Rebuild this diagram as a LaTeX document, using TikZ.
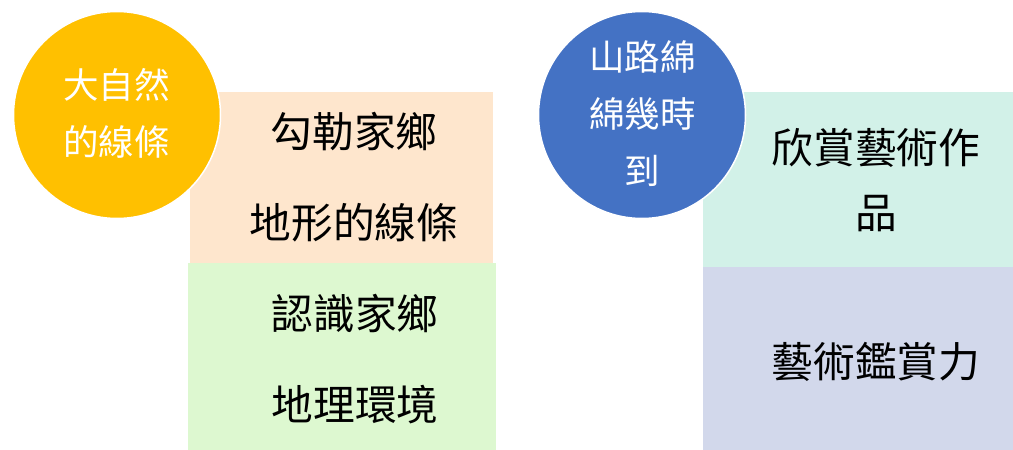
\documentclass[tikz,border=0pt]{standalone}
\usepackage{fontspec}
\setmainfont{Noto Sans CJK TC}
\definecolor{peach}{HTML}{FEE6CD}
\definecolor{lgreen}{HTML}{DDF8D0}
\definecolor{lteal}{HTML}{D2F1E8}
\definecolor{lav}{HTML}{D2D8EB}
\definecolor{gold}{HTML}{FFC000}
\definecolor{oblue}{HTML}{4472C4}
\tikzset{
  panel/.style={fill=#1, draw=none},
  circ/.style={circle, fill=#1, draw=white, line width=1.5pt, minimum size=207pt, inner sep=0pt},
  boxtext/.style={align=center, inner sep=0pt, text=black, font=\fontsize{41.7pt}{91pt}\selectfont},
  wraptext/.style={align=center, inner sep=0pt, text=black, font=\fontsize{41.7pt}{65pt}\selectfont},
  circtext/.style={align=center, inner sep=0pt, text=white, font=\fontsize{35.5pt}{57pt}\selectfont},
}
\begin{document}
\begin{tikzpicture}[x=1pt, y=-1pt]
\useasboundingbox (0,0) rectangle (1013,450);
% left group
\fill[panel=peach] (190,92) rectangle (493,263);
\fill[panel=lgreen] (188,263) rectangle (496,450);
\node[boxtext] (t1) at (354,177.5) {勾勒家鄉\\地形的線條};
\node[boxtext] (t2) at (355,359) {認識家鄉\\地理環境};
\node[circ=gold] (c1) at (117,115) {};
\node[circtext] (c1t) at (116.5,113.5) {大自然\\的線條};
% right group
\fill[panel=lteal] (703,92) rectangle (1013,267);
\fill[panel=lav] (703,267) rectangle (1013,450);
\node[wraptext] (t3) at (876,180.5) {欣賞藝術作\\品};
\node[boxtext] (t4) at (876,362) {藝術鑑賞力};
\node[circ=oblue] (c2) at (642,115) {};
\node[circtext] (c2t) at (642.5,113.5) {山路綿\\綿幾時\\到};
\end{tikzpicture}
\end{document}
